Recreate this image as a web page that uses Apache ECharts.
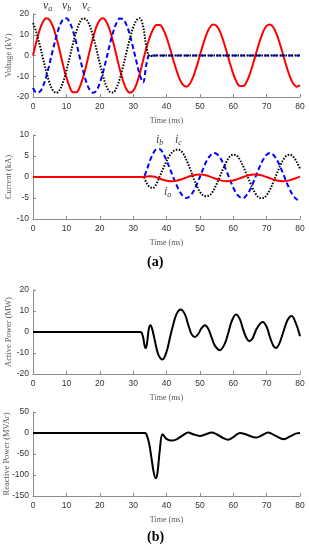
<!DOCTYPE html>
<html><head><meta charset="utf-8">
<script src="https://cdn.jsdelivr.net/npm/echarts@6/dist/echarts.min.js"></script>
<style>html,body{margin:0;padding:0;background:#fff}#c{width:309px;height:550px}</style>
</head><body><div id="c"></div>
<script>
// ---- data ----
const timeMs = [0,1,2,3,4,5,6,7,8,9,10,11,12,13,14,15,16,17,18,19,20,21,22,23,24,25,26,27,28,29,30,31,32,33,34,35,36,37,38,39,40,41,42,43,44,45,46,47,48,49,50,51,52,53,54,55,56,57,58,59,60,61,62,63,64,65,66,67,68,69,70,71,72,73,74,75,76,77,78,79,80];
const xTicks = [0,10,20,30,40,50,60,70,80];

// Voltage (kV)
const va = [0,6.6,12.3,16.3,18.0,17.1,13.9,8.7,2.3,-4.5,-10.6,-15.2,-17.7,-17.7,-15.2,-10.6,-4.5,2.3,8.7,13.9,17.1,18.0,16.3,12.3,6.6,0,-6.6,-12.3,-16.3,-18.0,-17.1,-13.9,-8.7,-2.3,3.7,8.8,12.7,14.7,14.7,12.7,8.8,3.7,-1.9,-7.2,-11.6,-14.3,-15.0,-13.6,-10.3,-5.5,0,5.5,10.3,13.6,15.0,14.3,11.6,7.2,1.9,-3.7,-8.8,-12.7,-14.7,-14.7,-12.7,-8.8,-3.7,1.9,7.2,11.6,14.3,15.0,13.6,10.3,5.5,0,-5.5,-10.3,-13.6,-15.0,-14.3];
const vb = [-15.6,-17.8,-17.5,-14.8,-10.0,-3.7,3.0,9.3,14.3,17.3,17.9,15.9,11.8,5.9,-0.8,-7.3,-12.9,-16.6,-18.0,-16.9,-13.4,-8.0,-1.5,5.2,11.2,15.6,17.8,17.5,14.8,10.0,3.7,-3.0,-9.3,-13.0,-4.0,0.5,0,0,0,0,0,0,0,0,0,0,0,0,0,0,0,0,0,0,0,0,0,0,0,0,0,0,0,0,0,0,0,0,0,0,0,0,0,0,0,0,0,0,0,0,0];
const vc = [15.6,11.2,5.2,-1.5,-8.0,-13.4,-16.9,-18.0,-16.6,-12.9,-7.3,-0.8,5.9,11.8,15.9,17.9,17.3,14.3,9.3,3.0,-3.7,-10.0,-14.8,-17.5,-17.8,-15.6,-11.2,-5.2,1.5,8.0,13.4,16.9,18.0,14.0,4.0,-0.5,0,0,0,0,0,0,0,0,0,0,0,0,0,0,0,0,0,0,0,0,0,0,0,0,0,0,0,0,0,0,0,0,0,0,0,0,0,0,0,0,0,0,0,0,0];

// Current (kA)
const ia = [0,0,0,0,0,0,0,0,0,0,0,0,0,0,0,0,0,0,0,0,0,0,0,0,0,0,0,0,0,0,0,0,0,0,0.1,0.15,0.1,-0.1,-0.4,-0.67,-0.88,-0.99,-0.99,-0.88,-0.67,-0.4,-0.1,0.19,0.42,0.56,0.6,0.52,0.35,0.09,-0.2,-0.49,-0.75,-0.92,-1.0,-0.96,-0.82,-0.59,-0.3,0,0.27,0.48,0.59,0.59,0.48,0.27,0,-0.3,-0.59,-0.82,-0.96,-1.0,-0.92,-0.75,-0.49,-0.2,0.09];
const ib = [0,0,0,0,0,0,0,0,0,0,0,0,0,0,0,0,0,0,0,0,0,0,0,0,0,0,0,0,0,0,0,0,0,0,1.5,3.8,5.6,6.6,6.6,5.6,4.0,2.0,0,-1.9,-3.5,-4.6,-5.0,-4.6,-3.5,-1.9,0,2.0,3.8,5.0,5.7,5.5,4.7,3.2,1.4,-0.6,-2.5,-4.0,-4.8,-5.0,-4.3,-3.1,-1.3,0.7,2.6,4.2,5.3,5.7,5.3,4.2,2.6,0.7,-1.3,-3.1,-4.5,-5.3,-5.7];
const ic = [0,0,0,0,0,0,0,0,0,0,0,0,0,0,0,0,0,0,0,0,0,0,0,0,0,0,0,0,0,0,0,0,0,0,-1.4,-2.4,-2.6,-1.6,0.2,2.0,3.8,5.2,6.1,6.5,6.4,5.6,4.0,2.1,-0.1,-2.0,-3.5,-4.4,-4.6,-4.3,-3.3,-1.7,0.1,2.0,3.7,4.9,5.3,5.1,4.1,2.5,0.6,-1.2,-3.0,-4.3,-5.0,-5.0,-4.3,-3.0,-1.2,0.7,2.6,4.1,5.1,5.3,4.8,3.6,2.0];

// Active power (MW)
const pTime = [0,32,32.5,33,33.5,33.8,34.2,34.7,35.2,35.7,36.5,37.5,38.8,40,41,42,43,44.2,45.5,46.5,47.5,48.5,49.5,50.5,51.5,52.5,53.5,54.5,56,57.5,58.5,59.5,60.8,62,63,64,64.8,65.8,67,68.8,70,71,72,72.8,73.8,75,76.2,77.5,78.8,80];
const pValue = [0,0,-0.2,-2.5,-7,-7.6,-5,1.5,3.2,1.5,-4,-10.5,-13.1,-9.5,-3,3.5,8.5,10.7,8.5,3.5,-1,-2.4,-1,1.8,3.2,1.5,-2.5,-6.5,-8.7,-5.5,-0.5,5,8.3,6,1,-3,-4.4,-3,1.5,4.8,2.5,-2.5,-6.5,-7.6,-5.5,0,5.5,7.6,4,-2];

// Reactive power (MVAr)
const qTime = [0,33.5,34,34.8,35.5,36.2,36.8,37.3,38,38.8,40,41.5,43,45,46.5,48,50,51.8,53.5,55,57,58.5,60,62,64,66.8,68.5,70.5,72.5,75.2,77,79,80];
const qValue = [0,0,-3,-25,-60,-95,-108,-95,-40,-3,-14,-18,-15,-5,1,-3,-7,-3,1,-3,-12,-16,-10,0,-4,-11,-6,1,-6,-15,-8,-1,0];

const yV = [-20,20,10], yI = [-10,10,5], yP = [-20,20,10], yQ = [-150,50,50];

// ---- chart ----
const RED='#ff0000', BLUE='#0000ff', BLK='#000000';
const grids = [
  {left:33, right:9, top:14, height:83, outerBoundsMode:'none', containLabel:false},
  {left:33, right:9, top:135, height:84, outerBoundsMode:'none', containLabel:false},
  {left:33, right:9, top:290, height:84, outerBoundsMode:'none', containLabel:false},
  {left:33, right:9, top:412, height:84, outerBoundsMode:'none', containLabel:false}
];
const axisGray = '#8c8c8c';
function xAx(i){
  return {gridIndex:i, type:'value', min:xTicks[0], max:xTicks[xTicks.length-1], interval:10,
    name:'Time (ms)', nameLocation:'middle', nameGap:20, nameMoveOverlap:false,
    nameTextStyle:{fontFamily:'Liberation Serif', fontSize:8, color:'#555'},
    axisLine:{onZero:false, lineStyle:{color:axisGray, width:1}},
    axisTick:{inside:true, length:3, lineStyle:{color:axisGray}},
    axisLabel:{fontFamily:'Liberation Sans', fontSize:8.5, color:'#333', margin:5},
    splitLine:{show:false}};
}
function yAx(i, r, name, gap){
  return {gridIndex:i, type:'value', min:r[0], max:r[1], interval:r[2],
    name:name, nameLocation:'middle', nameGap:gap, nameMoveOverlap:false,
    nameTextStyle:{fontFamily:'Liberation Serif', fontSize:8.5, color:'#555'},
    axisLine:{show:true, onZero:false, lineStyle:{color:axisGray, width:1}},
    axisTick:{show:true, inside:true, length:3, lineStyle:{color:axisGray}},
    axisLabel:{fontFamily:'Liberation Sans', fontSize:8.5, color:'#333', margin:4},
    splitLine:{show:false}};
}
function zip(t, v){ return t.map((x,k)=>[x, v[k]]); }
function ser(i, data, color, type, w){
  return {type:'line', xAxisIndex:i, yAxisIndex:i, data:data, showSymbol:false, symbol:'none',
    smooth:0.35, lineStyle:{color:color, width:w||2, type:type||'solid'}, animation:false, z:2};
}
const dashB = [5,3], dotK = [1.5,1.5];
const sub = (c)=>({v:{fontFamily:'Liberation Serif', fontStyle:'italic', fontSize:12, fill:c}, s:{fontFamily:'Liberation Serif', fontStyle:'italic', fontSize:8, fill:c, verticalAlign:'bottom', padding:[6,0,0,0]}});
const option = {
  animation:false,
  grid:grids,
  xAxis:[xAx(0),xAx(1),xAx(2),xAx(3)],
  yAxis:[yAx(0,yV,'Voltage (kV)',20), yAx(1,yI,'Current (kA)',20), yAx(2,yP,'Active Power (MW)',20), yAx(3,yQ,'Reactive Power (MVAr)',22)],
  series:[
    ser(0, zip(timeMs, va), RED, 'solid', 2),
    ser(0, zip(timeMs, vb), BLUE, dashB, 2),
    ser(0, zip(timeMs, vc), BLK, dotK, 2),
    ser(1, zip(timeMs, ib), BLUE, dashB, 2),
    ser(1, zip(timeMs, ic), BLK, dotK, 2),
    ser(1, zip(timeMs, ia), RED, 'solid', 2),
    ser(2, zip(pTime, pValue), BLK, 'solid', 2),
    ser(3, zip(qTime, qValue), BLK, 'solid', 2)
  ],
  graphic:[
    {type:'text', left:43, top:0, style:{text:'{v|v}{s|a}', rich:sub('#333')}},
    {type:'text', left:62, top:0, style:{text:'{v|v}{s|b}', rich:sub('#333')}},
    {type:'text', left:82, top:0, style:{text:'{v|v}{s|c}', rich:sub('#333')}},
    {type:'text', left:156, top:134, style:{text:'{v|i}{s|b}', rich:sub('#444')}},
    {type:'text', left:175, top:134, style:{text:'{v|i}{s|c}', rich:sub('#444')}},
    {type:'text', left:164, top:186, style:{text:'{v|i}{s|a}', rich:sub('#444')}},
    {type:'text', left:147, top:255, style:{text:'(a)', fontFamily:'Liberation Serif', fontWeight:'bold', fontSize:14, fill:'#000'}},
    {type:'text', left:147, top:530, style:{text:'(b)', fontFamily:'Liberation Serif', fontWeight:'bold', fontSize:14, fill:'#000'}}
  ]
};
const chart = echarts.init(document.getElementById('c'), null, {renderer:'canvas'});
chart.setOption(option);
</script></body></html>
